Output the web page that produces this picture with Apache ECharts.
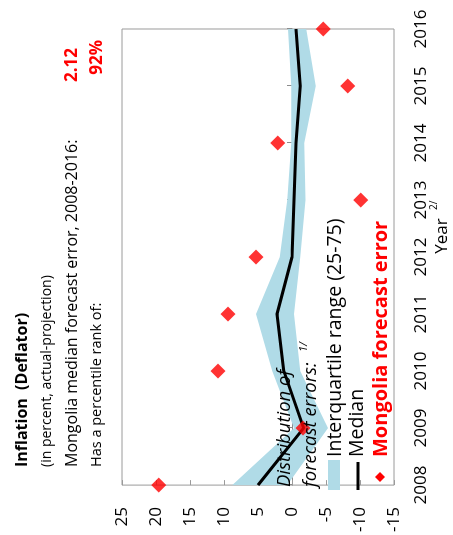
<!DOCTYPE html>
<html>
<head>
<meta charset="utf-8">
<script src="https://cdn.jsdelivr.net/npm/echarts@6/dist/echarts.min.js"></script>
<style>
  html, body { margin: 0; padding: 0; overflow: hidden; background: #fff; width: 453px; height: 535px; }
  /* chart is laid out upright (535x453) and turned a quarter turn, like the source page */
  #chart { position: absolute; left: 0; top: 0; width: 535px; height: 453px;
           transform-origin: 0 0; transform: translate(0, 535px) rotate(-90deg); }
</style>
</head>
<body>
<div id="chart"></div>
<script>
var years = ["2008", "2009", "2010", "2011", "2012", "2013", "2014", "2015", "2016"];
// interquartile range of forecast errors (25th and 75th percentile)
var iqrLow = [0.7, -5.3, -1.2, -0.3, -1.2, -2.0, -1.8, -3.5, -2.1];
var iqrHigh = [8.8, -0.3, 2.9, 5.3, 1.8, 0.7, 0.1, 0.1, 0.6];
var median = [5.0, -1.7, 1.2, 2.2, 0.0, -0.3, -0.6, -1.2, -0.6];
var mongolia = [19.6, -1.6, 10.9, 9.4, 5.3, -10.1, 2.1, -8.2, -4.6];
var valueMin = -15, valueMax = 25, valueStep = 5;

var FONT = "'Open Sans', 'Noto Sans', sans-serif";
var BAND = "#b0dbe7";
var RED = "#ff0000";

var chart = echarts.init(document.getElementById("chart"));

function txt(text, x, y, size, opts) {
  opts = opts || {};
  return {
    type: "text", x: x, y: y, z: 100, silent: true,
    style: {
      text: text,
      font: (opts.style || "normal") + " " + (opts.weight || "normal") + " " + size + "px " + FONT,
      fill: opts.color || "#000",
      align: opts.align || "left", textAlign: opts.align || "left",
      verticalAlign: "middle", textVerticalAlign: "middle"
    }
  };
}

var option = {
  animation: false,
  grid: { left: 45, right: 29, top: 122, bottom: 59, show: true, borderColor: "#9a9a9a", borderWidth: 1 },
  xAxis: [
    {
      // axis line drawn along zero with small ticks
      type: "category", data: years, boundaryGap: false, position: "top",
      axisLine: { onZero: true, lineStyle: { color: "#8c8c8c", width: 1 } },
      axisTick: { show: true, inside: false, length: 5, interval: 0, lineStyle: { color: "#8c8c8c" } },
      axisLabel: { show: false },
      splitLine: { show: false }
    },
    {
      type: "category", data: years, boundaryGap: false, position: "bottom",
      axisLine: { show: false, onZero: false },
      axisTick: { show: false },
      axisLabel: { show: true, interval: 0, margin: 19, fontSize: 17, fontFamily: FONT, color: "#000" },
      splitLine: { show: false }
    }
  ],
  yAxis: {
    type: "value", min: valueMin, max: valueMax, interval: valueStep,
    axisLine: { show: false },
    axisTick: { show: true, inside: true, length: 5, lineStyle: { color: "#9a9a9a" } },
    axisLabel: { margin: 22, fontSize: 17, fontFamily: FONT, color: "#000" },
    splitLine: { show: false }
  },
  series: [
    {
      name: "iqrBase", type: "line", data: iqrLow, stack: "iqr", stackStrategy: "all",
      symbol: "none", lineStyle: { opacity: 0 }, silent: true, z: 1
    },
    {
      name: "Interquartile range (25-75)", type: "line", stack: "iqr", stackStrategy: "all",
      data: iqrHigh.map(function (h, i) { return +(h - iqrLow[i]).toFixed(2); }),
      symbol: "none", lineStyle: { opacity: 0 }, areaStyle: { color: BAND, opacity: 1 }, silent: true, z: 1
    },
    {
      name: "Median", type: "line", data: median, symbol: "none",
      lineStyle: { color: "#000", width: 3 }, silent: true, z: 3
    },
    {
      name: "Mongolia forecast error", type: "scatter", data: mongolia,
      symbol: "diamond", symbolSize: 15, itemStyle: { color: RED }, silent: true, z: 5
    }
  ],
  graphic: [
    txt("Inflation  (Deflator)", 68, 22, 16, { weight: "bold" }),
    txt("(in percent, actual-projection)", 68, 47, 14),
    txt("Mongolia median forecast error, 2008-2016:", 68, 72, 16),
    txt("Has a percentile rank of:", 68, 97, 14.5),
    txt("2.12", 487, 72, 17, { weight: "bold", color: RED, align: "right" }),
    txt("92%", 495, 97, 17, { weight: "bold", color: RED, align: "right" }),

    txt("Distribution of", 48, 285, 18.5, { style: "italic" }),
    txt("forecast errors:", 48, 311, 18.5, { style: "italic" }),
    txt("1/", 183, 304, 11, { style: "italic" }),
    { type: "rect", z: 100, silent: true, shape: { x: 45, y: 328, width: 30, height: 12 }, style: { fill: BAND } },
    txt("Interquartile range (25-75)", 78, 335, 19.5),
    { type: "line", z: 100, silent: true, shape: { x1: 45, y1: 358, x2: 73, y2: 358 }, style: { stroke: "#000", lineWidth: 3 } },
    txt("Median", 78, 357, 19.5),
    { type: "polygon", z: 100, silent: true, shape: { points: [[58, 375], [63, 380], [58, 385], [53, 380]] }, style: { fill: RED } },
    txt("Mongolia forecast error", 78, 381, 20, { weight: "bold", color: RED }),

    txt("Year", 299, 442, 17, { align: "center" }),
    txt("2/", 325, 434, 10)
  ]
};

chart.setOption(option);
</script>
</body>
</html>
